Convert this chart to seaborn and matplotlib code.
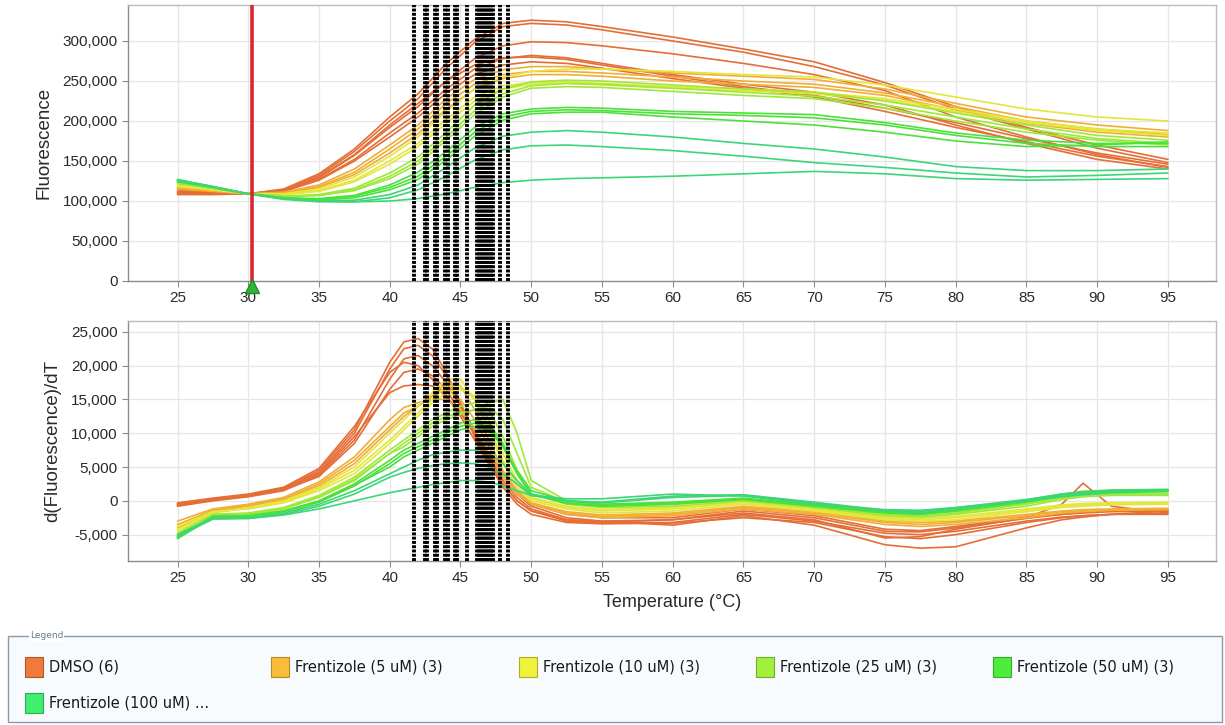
import matplotlib
matplotlib.use("Agg")
import matplotlib.pyplot as plt
import numpy as np
import pandas as pd
import seaborn as sns
from matplotlib.patches import Rectangle
from matplotlib.ticker import FuncFormatter
from matplotlib.colors import to_rgb

# ---------------- data ----------------
TEMP_F = [25, 27.5, 30, 32.5, 35, 37.5, 40, 42, 44, 46, 48, 50, 52.5, 55, 60, 65, 70, 75, 80, 85, 90, 95]
TEMP_D = [25, 27.5, 30, 32.5, 35, 37.5, 40, 41, 42, 43, 44, 45, 46, 47, 48, 49, 50, 52.5, 55,
          60, 65, 70, 75, 77.5, 80, 85, 87.5, 89, 91, 95]

GROUPS = ["DMSO (6)", "Frentizole (5 uM) (3)", "Frentizole (10 uM) (3)",
          "Frentizole (25 uM) (3)", "Frentizole (50 uM) (3)", "Frentizole (100 uM) ..."]

# Fluorescence, thousands of units
FLUOR_DMSO = [
    [110, 109, 109, 115, 134, 165, 205, 234, 272, 302, 322, 326, 324, 318, 305, 290, 274, 248, 218, 192, 170, 152],
    [108, 108, 109, 114, 132, 162, 200, 228, 266, 298, 318, 322, 320, 314, 300, 286, 268, 245, 215, 190, 166, 148],
    [112, 110, 109, 113, 129, 157, 192, 218, 250, 278, 294, 299, 298, 294, 284, 272, 258, 238, 205, 180, 158, 142],
    [114, 111, 109, 112, 127, 152, 185, 210, 240, 265, 278, 282, 279, 272, 258, 246, 236, 220, 195, 172, 152, 140],
    [109, 109, 109, 113, 130, 158, 195, 222, 250, 270, 279, 280, 277, 270, 256, 243, 232, 216, 198, 178, 160, 146],
    [111, 110, 109, 112, 126, 150, 180, 205, 235, 258, 270, 274, 272, 266, 253, 241, 230, 212, 192, 174, 156, 143],
]
FLUOR_F5 = [
    [115, 112, 109, 111, 120, 140, 170, 195, 228, 252, 264, 268, 268, 265, 260, 256, 252, 240, 222, 205, 195, 188],
    [116, 113, 109, 110, 118, 136, 165, 190, 222, 246, 258, 262, 262, 260, 255, 250, 246, 235, 218, 200, 190, 183],
    [117, 113, 109, 110, 117, 133, 160, 184, 215, 240, 253, 258, 258, 256, 250, 246, 242, 232, 214, 197, 186, 180],
]
FLUOR_F10 = [
    [118, 114, 109, 109, 115, 130, 156, 180, 212, 240, 255, 262, 265, 265, 262, 258, 255, 245, 230, 215, 205, 200],
    [119, 114, 109, 108, 113, 126, 150, 172, 202, 230, 244, 248, 249, 247, 243, 240, 236, 228, 215, 200, 190, 185],
    [120, 115, 109, 108, 112, 124, 146, 168, 197, 225, 240, 246, 247, 245, 241, 238, 234, 226, 212, 198, 188, 182],
]
FLUOR_F25 = [
    [122, 116, 109, 106, 108, 116, 135, 155, 186, 220, 240, 249, 251, 250, 245, 240, 236, 225, 210, 195, 182, 176],
    [123, 116, 109, 106, 107, 114, 131, 150, 180, 213, 234, 244, 247, 246, 241, 236, 231, 220, 205, 190, 178, 172],
    [122, 116, 109, 106, 107, 113, 128, 146, 176, 208, 230, 241, 243, 242, 237, 232, 228, 216, 200, 186, 176, 170],
]
FLUOR_F50 = [
    [124, 117, 109, 104, 103, 107, 120, 136, 162, 192, 209, 215, 217, 216, 212, 210, 208, 198, 185, 176, 172, 172],
    [125, 117, 109, 104, 102, 106, 117, 131, 156, 186, 205, 212, 214, 213, 209, 207, 204, 195, 182, 172, 168, 168],
    [126, 118, 109, 103, 101, 104, 114, 127, 151, 181, 201, 209, 211, 211, 205, 200, 195, 186, 175, 168, 170, 174],
]
FLUOR_F100 = [
    [126, 118, 109, 103, 100, 101, 108, 120, 142, 166, 181, 186, 188, 186, 180, 172, 165, 155, 143, 138, 138, 140],
    [127, 118, 109, 102, 99, 99, 104, 114, 131, 151, 164, 169, 170, 168, 163, 156, 148, 142, 135, 130, 132, 135],
    [125, 117, 109, 103, 100, 99, 100, 103, 109, 117, 123, 126, 128, 129, 131, 134, 137, 134, 128, 126, 127, 128],
]

# d(Fluorescence)/dT, thousands of units per degree
DERIV_DMSO = [
    [-0.6, 0.2, 0.8, 1.8, 4.5, 10.5, 20.5, 23.5, 24.0, 22.5, 19.0, 14.5, 10.0, 6.0, 2.5, 0.0, -1.5, -3.0, -3.3, -3.2, -2.0, -3.0, -4.8, -5.0, -4.5, -3.0, -2.4, -2.2, -2.0, -1.8],
    [-0.4, 0.3, 0.9, 1.9, 4.2, 10.0, 19.5, 22.5, 23.0, 21.5, 18.5, 14.0, 9.5, 5.5, 2.0, -0.5, -2.0, -3.2, -3.4, -3.3, -2.5, -3.2, -5.3, -5.6, -5.0, -3.2, -2.5, -2.2, -2.0, -2.0],
    [-0.8, 0.0, 0.6, 1.5, 3.8, 9.0, 18.0, 21.0, 21.5, 20.0, 17.5, 14.0, 10.5, 6.5, 3.0, 0.5, -1.2, -2.8, -3.0, -3.6, -2.2, -3.6, -6.5, -7.0, -6.8, -4.0, -2.8, -2.4, -2.0, -1.5],
    [-0.5, 0.2, 0.7, 1.6, 3.6, 8.5, 16.5, 19.0, 19.5, 18.5, 16.5, 13.0, 10.0, 6.5, 3.5, 1.0, -0.8, -2.5, -3.0, -2.8, -1.8, -2.8, -5.5, -5.3, -4.2, -2.5, -0.5, 2.6, -0.8, -1.8],
    [-0.3, 0.4, 1.0, 2.0, 4.8, 11.0, 19.0, 20.5, 20.0, 18.0, 15.5, 12.5, 9.0, 5.5, 2.5, 0.0, -1.5, -2.8, -3.2, -2.8, -1.5, -2.5, -4.5, -4.6, -4.0, -2.6, -2.0, -1.8, -1.6, -1.5],
    [-0.7, 0.1, 0.7, 1.7, 4.0, 9.5, 16.0, 17.0, 17.2, 17.0, 15.5, 13.0, 10.0, 7.0, 4.0, 1.5, -0.5, -2.0, -2.5, -2.5, -1.2, -2.2, -4.2, -4.4, -3.8, -2.4, -2.0, -1.7, -1.5, -1.4],
]
DERIV_F5 = [
    [-3.0, -1.2, -0.5, 0.5, 2.8, 6.5, 12.0, 13.8, 14.5, 15.0, 15.0, 13.5, 10.5, 7.0, 3.5, 1.0, -0.5, -2.0, -2.5, -2.2, -1.2, -2.0, -3.5, -3.8, -3.5, -2.5, -1.8, -1.6, -1.4, -1.3],
    [-3.5, -1.4, -0.7, 0.3, 2.5, 6.0, 11.0, 13.0, 14.0, 15.5, 16.5, 15.0, 12.0, 8.0, 4.0, 1.2, -0.4, -1.8, -2.3, -2.0, -1.0, -1.8, -3.2, -3.5, -3.2, -2.2, -1.6, -1.5, -1.3, -1.2],
    [-4.0, -1.5, -0.8, 0.2, 2.2, 5.5, 10.5, 12.5, 14.0, 15.5, 17.5, 17.0, 13.5, 9.0, 4.5, 1.5, -0.3, -1.6, -2.1, -1.8, -0.8, -1.6, -3.0, -3.2, -3.0, -2.0, -1.5, -1.3, -1.2, -1.1],
]
DERIV_F10 = [
    [-4.5, -1.8, -1.0, 0.0, 2.0, 5.0, 10.0, 12.0, 14.0, 16.0, 18.0, 18.0, 15.0, 10.5, 5.5, 2.0, 0.0, -1.2, -1.8, -1.5, -0.5, -1.5, -2.8, -3.0, -2.8, -1.6, -1.0, -0.8, -0.6, -0.5],
    [-4.2, -1.7, -1.1, -0.2, 1.8, 4.5, 9.0, 11.0, 13.0, 15.0, 17.0, 17.0, 15.0, 11.0, 6.0, 2.5, 0.3, -1.0, -1.5, -1.2, -0.3, -1.3, -2.6, -2.8, -2.5, -1.4, -0.8, -0.6, -0.5, -0.4],
    [-3.8, -1.6, -1.2, -0.3, 1.5, 4.0, 8.5, 10.5, 12.5, 14.5, 16.0, 16.5, 15.5, 12.0, 7.0, 3.0, 0.5, -0.8, -1.3, -1.0, -0.2, -1.2, -2.4, -2.6, -2.3, -1.2, -0.6, -0.4, -0.3, -0.2],
]
DERIV_F25 = [
    [-5.0, -2.0, -1.8, -1.0, 0.8, 3.5, 7.5, 9.0, 10.5, 12.0, 13.0, 14.0, 14.5, 13.5, 9.5, 4.5, 1.0, -0.5, -1.0, -0.8, 0.0, -1.0, -2.2, -2.4, -2.0, -0.8, 0.2, 0.6, 0.8, 0.8],
    [-5.3, -2.2, -2.0, -1.2, 0.5, 3.0, 7.0, 8.5, 10.0, 11.5, 12.5, 13.0, 13.5, 14.0, 12.0, 7.0, 2.0, -0.2, -0.8, -0.5, 0.2, -0.8, -2.0, -2.2, -1.8, -0.5, 0.4, 0.8, 1.0, 1.0],
    [-4.8, -2.0, -1.9, -1.1, 0.6, 3.2, 7.0, 8.0, 9.5, 11.0, 12.0, 12.8, 13.5, 14.5, 15.0, 10.0, 3.0, 0.0, -0.6, -0.3, 0.3, -0.7, -1.8, -2.0, -1.6, -0.4, 0.5, 0.9, 1.1, 1.1],
]
DERIV_F50 = [
    [-5.5, -2.3, -2.2, -1.5, 0.0, 2.5, 6.0, 7.5, 8.5, 9.5, 10.5, 11.5, 12.0, 11.5, 8.5, 4.0, 1.0, -0.4, -0.8, -0.5, 0.2, -0.8, -1.8, -2.0, -1.5, -0.2, 0.7, 1.1, 1.3, 1.4],
    [-5.6, -2.4, -2.3, -1.6, -0.2, 2.2, 5.5, 7.0, 8.0, 9.0, 10.0, 11.0, 11.5, 11.0, 8.0, 4.0, 1.0, -0.3, -0.7, -0.3, 0.3, -0.7, -1.7, -1.9, -1.4, 0.0, 0.9, 1.3, 1.5, 1.6],
    [-5.4, -2.3, -2.2, -1.5, -0.1, 2.3, 5.0, 6.5, 7.5, 8.5, 9.5, 10.5, 11.0, 10.5, 8.0, 4.5, 1.5, 0.0, -0.5, -0.2, 0.4, -0.6, -1.6, -1.8, -1.3, 0.1, 1.0, 1.4, 1.6, 1.7],
]
DERIV_F100 = [
    [-5.0, -2.5, -2.5, -1.8, -0.5, 1.5, 4.0, 5.0, 6.0, 6.8, 7.2, 7.5, 7.5, 7.0, 5.5, 3.0, 1.0, 0.0, -0.3, 0.5, 0.8, -0.3, -1.5, -1.8, -1.2, 0.0, 0.8, 1.2, 1.4, 1.5],
    [-5.2, -2.6, -2.6, -2.0, -0.8, 1.0, 3.5, 4.2, 4.8, 5.2, 5.5, 5.6, 5.5, 5.0, 4.0, 2.5, 0.8, 0.0, -0.2, 0.7, 0.9, -0.2, -1.4, -1.6, -1.0, 0.2, 1.0, 1.3, 1.5, 1.6],
    [-5.3, -2.7, -2.6, -2.1, -1.2, 0.0, 1.2, 1.6, 2.0, 2.4, 2.7, 3.0, 3.0, 2.8, 2.2, 1.5, 0.8, 0.3, 0.3, 1.0, 0.7, -0.5, -1.3, -1.4, -1.0, 0.0, 0.6, 0.9, 1.2, 1.4],
]

# melting temperatures (black dotted markers) and cursor
TM_VALUES = [41.74, 42.52, 42.66, 43.22, 43.37, 43.93, 44.14, 44.64, 44.78, 45.48, 46.19,
             46.33, 46.47, 46.61, 46.76, 46.90, 47.04, 47.18, 47.32, 47.82, 48.38]
CURSOR_T = 30.25

FLUOR_TICKS = [0, 50000, 100000, 150000, 200000, 250000, 300000]
DERIV_TICKS = [-5000, 0, 5000, 10000, 15000, 20000, 25000]
TEMP_TICKS = [25, 30, 35, 40, 45, 50, 55, 60, 65, 70, 75, 80, 85, 90, 95]

# ---------------- styles ----------------
LINE_COLORS = ["#E46E36", "#F0AE36", "#E4E63A", "#9EE83A", "#4CE03A", "#3CD676"]
SWATCH_COLORS = ["#F07A3A", "#F8BE3A", "#F0F23C", "#A0F03C", "#4CEE3C", "#40EF70"]

FLUOR_ALL = [FLUOR_DMSO, FLUOR_F5, FLUOR_F10, FLUOR_F25, FLUOR_F50, FLUOR_F100]
DERIV_ALL = [DERIV_DMSO, DERIV_F5, DERIV_F10, DERIV_F25, DERIV_F50, DERIV_F100]

rows_f, rows_d = [], []
well = 0
for g, (fl, dl) in enumerate(zip(FLUOR_ALL, DERIV_ALL)):
    for fcurve, dcurve in zip(fl, dl):
        for t, v in zip(TEMP_F, fcurve):
            rows_f.append({"group": GROUPS[g], "well": well, "T": t, "F": v * 1000})
        for t, v in zip(TEMP_D, dcurve):
            rows_d.append({"group": GROUPS[g], "well": well, "T": t, "D": v * 1000})
        well += 1
df_f = pd.DataFrame(rows_f)
df_d = pd.DataFrame(rows_d)

sns.set_theme(style="white")
plt.rcParams["font.family"] = ["Liberation Sans", "DejaVu Sans"]

W, H = 1225, 725
fig = plt.figure(figsize=(W / 100, H / 100), dpi=100)

def px_axes(x0, y0, x1, y1):
    return fig.add_axes([x0 / W, 1 - y1 / H, (x1 - x0) / W, (y1 - y0) / H])

ax1 = px_axes(128, 5, 1216, 281)
ax2 = px_axes(128, 321, 1216, 561)

palette = dict(zip(GROUPS, LINE_COLORS))
sns.lineplot(data=df_f, x="T", y="F", hue="group", units="well", estimator=None,
             palette=palette, hue_order=GROUPS, legend=False, linewidth=1.2,
             sort=False, ax=ax1, zorder=2)
sns.lineplot(data=df_d, x="T", y="D", hue="group", units="well", estimator=None,
             palette=palette, hue_order=GROUPS, legend=False, linewidth=1.2,
             sort=False, ax=ax2, zorder=2)

fmt = FuncFormatter(lambda v, p: f"{v:,.0f}")
for ax, ticks, ylim in ((ax1, FLUOR_TICKS, (0, 345000)), (ax2, DERIV_TICKS, (-8900, 26600))):
    ax.set_xlim(21.5, 98.4)
    ax.set_ylim(*ylim)
    ax.set_xticks(TEMP_TICKS)
    ax.set_yticks(ticks)
    ax.yaxis.set_major_formatter(fmt)
    ax.grid(True, color="#E6E6E6", linewidth=0.9, zorder=0)
    ax.set_axisbelow(True)
    for s in ax.spines.values():
        s.set_color("#BBBBBB")
        s.set_linewidth(1.0)
    ax.spines["bottom"].set_color("#8C8C8C")
    ax.spines["left"].set_color("#8C8C8C")
    ax.tick_params(axis="both", labelsize=11, labelcolor="#2A2A2A", color="#8C8C8C",
                   length=4, width=0.8, direction="out", bottom=True, left=True)
    ax.set_xlabel("")
    for t in TM_VALUES:
        ax.axvline(t, color="black", linewidth=2.8, linestyle=(0, (0.75, 0.35)), zorder=4)

ax1.set_ylabel("Fluorescence", fontsize=13.5, color="#2A2A2A", labelpad=7)
ax2.set_ylabel("d(Fluorescence)/dT", fontsize=13.5, color="#2A2A2A", labelpad=7)
ax2.set_xlabel("Temperature (°C)", fontsize=13, color="#2A2A2A", labelpad=6)

# cursor line with marker
ax1.axvline(CURSOR_T, color="#D8282E", linewidth=2.6, zorder=5)
ax1.plot([CURSOR_T], [-6000], marker="^", markersize=10, color="#2DB53C",
         markeredgecolor="#1E8A2A", clip_on=False, zorder=6)

# ---------------- legend box ----------------
fig.patches.append(Rectangle((8 / W, 1 - 722 / H), 1214 / W, 86 / H, transform=fig.transFigure,
                             facecolor="#F8FBFE", edgecolor="#8A9AAA", linewidth=1.0, zorder=0))
fig.text(30 / W, 1 - 636 / H, "Legend", fontsize=6.5, color="#6A7A8A", va="center",
         ha="left", family="DejaVu Sans",
         bbox=dict(facecolor="#FFFFFF", edgecolor="none", pad=0.5))

col_x = [25, 271, 519, 756, 993]
row_y = [667, 703]
slots = [(0, 0), (0, 1), (0, 2), (0, 3), (0, 4), (1, 0)]
for (r, c), label, col in zip(slots, GROUPS, SWATCH_COLORS):
    x, y = col_x[c], row_y[r]
    edge = tuple(0.72 * np.array(to_rgb(col)))
    fig.patches.append(Rectangle((x / W, 1 - (y + 10) / H), 18 / W, 20 / H,
                                 transform=fig.transFigure, facecolor=col,
                                 edgecolor=edge, linewidth=0.8, zorder=2))
    fig.text((x + 24) / W, 1 - y / H, label, fontsize=10.5, color="#1A1A1A",
             va="center", ha="left", family="DejaVu Sans")

fig.savefig("out.png", dpi=100)
